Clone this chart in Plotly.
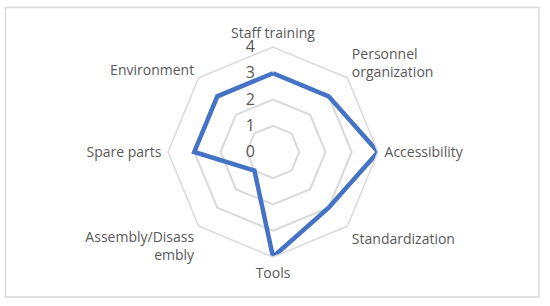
import plotly.graph_objects as go

categories = ["Staff training", "Personnel<br>organization", "Accessibility", "Standardization",
              "Tools", "Assembly/Disass<br>embly", "Spare parts", "Environment"]
values = [3, 3, 4, 3, 4, 1, 3, 3]
radial_ticks = [0, 1, 2, 3, 4]

fig = go.Figure()
fig.add_trace(go.Scatterpolar(
    r=values + values[:1],
    theta=categories + categories[:1],
    mode="lines",
    line=dict(color="#4472C4", width=4.5),
    hoverinfo="skip",
))

W, H = 550, 306
cx, cy, R = 273, 152, 105
fig.update_layout(
    width=W, height=H,
    margin=dict(l=0, r=0, t=0, b=0),
    paper_bgcolor="white",
    showlegend=False,
    font=dict(family="Open Sans", color="#595959", size=12),
    polar=dict(
        domain=dict(x=[(cx - R) / W, (cx + R) / W], y=[(H - cy - R) / H, (H - cy + R) / H]),
        bgcolor="white",
        gridshape="linear",
        angularaxis=dict(
            direction="clockwise", rotation=90,
            showline=True, linecolor="#D9D9D9", linewidth=1.5,
            showgrid=False,
            ticks="outside", ticklen=3, tickcolor="rgba(0,0,0,0)",
            tickfont=dict(size=14, color="#595959"),
        ),
        radialaxis=dict(
            range=[0, 4], tickvals=radial_ticks,
            angle=90, tickangle=90, side="counterclockwise",
            ticks="outside", ticklen=12, tickcolor="rgba(0,0,0,0)",
            showline=False, showgrid=True, gridcolor="#D9D9D9", gridwidth=1.5,
            tickfont=dict(size=16, color="#595959"),
        ),
    ),
    shapes=[dict(type="rect", xref="paper", yref="paper",
                 x0=5.5 / W, x1=539 / W, y0=(H - 297) / H, y1=(H - 7.5) / H,
                 line=dict(color="#D9D9D9", width=1.5))],
)

fig.write_html("out.html", config={"displayModeBar": False},
               post_script="document.body.style.margin='0';")
